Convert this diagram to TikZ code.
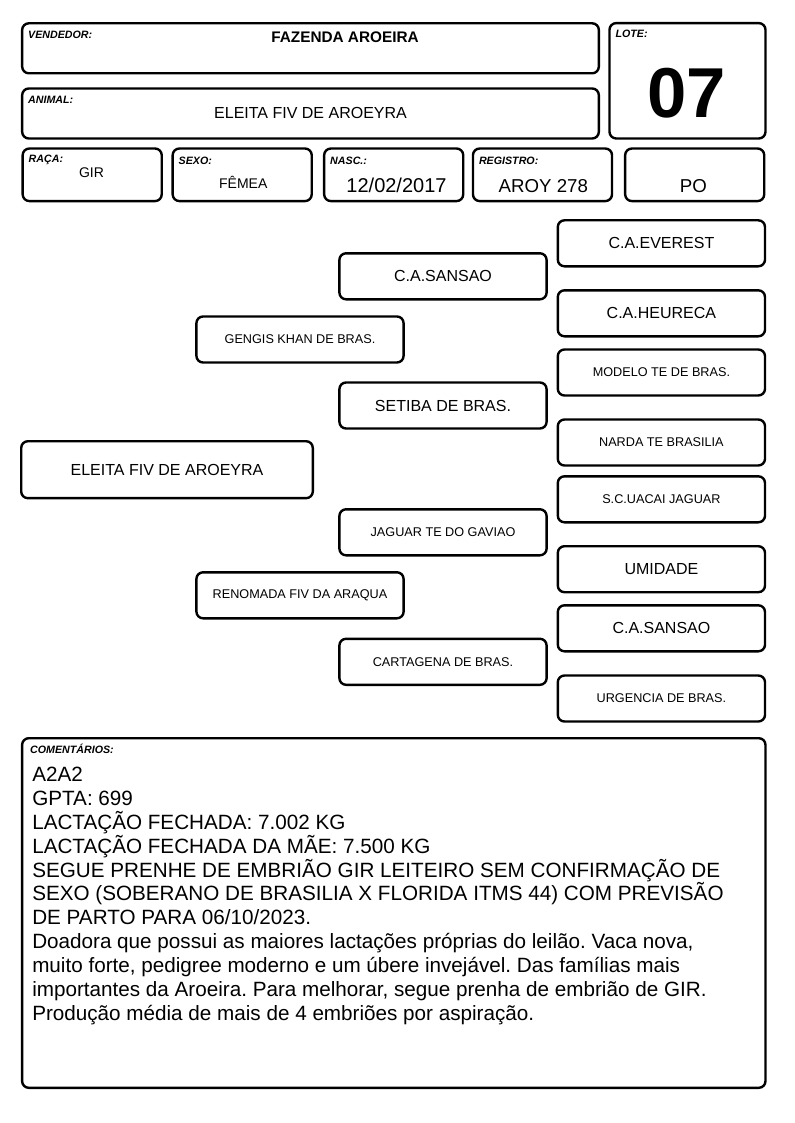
\documentclass[tikz,border=0pt]{standalone}
\usepackage{fontspec}
\setmainfont{Liberation Sans}
\usepackage{tikz}
\usetikzlibrary{calc}

\newcommand{\fsz}[1]{\fontsize{#1}{1.2\dimexpr#1pt\relax}\selectfont}
\frenchspacing

\begin{document}
\begin{tikzpicture}[
    x=0.75pt, y=-0.75pt,
    box/.style={draw, line width=1.8pt, rounded corners=5pt, inner sep=0pt, align=center},
    hbox/.style={box, minimum width=432.5pt, minimum height=37.5pt},
    rbox/.style={box, minimum width=104.3pt, minimum height=39.4pt},
    pbox/.style={box, minimum width=155.4pt, minimum height=34.5pt},
    big/.style={font=\fsz{12}},
    small/.style={font=\fsz{9.5}},
    lbl/.style={anchor=base west, inner sep=0pt, font=\fsz{8}\bfseries\itshape},
    val/.style={anchor=base, inner sep=0pt}
]
    \useasboundingbox (0,0) rectangle (794,1123);

    % Header
    \node [hbox] (vend) at (310.5,48.3) {};
    \node [hbox] (animal) at (310.5,113.5) {};
    \node [box, minimum width=117pt, minimum height=86.5pt] (lote) at (687.5,80.8) {};
    \node [lbl] (vendl) at ($(vend.north west)+(7,16)$) {VENDEDOR:};
    \node [lbl] (animall) at ($(animal.north west)+(7,16)$) {ANIMAL:};
    \node [lbl] (lotel) at ($(lote.north west)+(7,16)$) {LOTE:};
    \node [val, font=\fsz{11.5}\bfseries] (vendv) at (345,43) {FAZENDA AROEIRA};
    \node [val, font=\fsz{12}] (animalv) at (310.5,119) {ELEITA FIV DE AROEYRA};
    \node [val, font=\fsz{53}\bfseries] (lotev) at (686.5,118) {07};

    % Data row
    \node [rbox] (raca) at (92.2,174.8) {};
    \node [rbox] (sexo) at (242.2,174.8) {};
    \node [rbox] (nasc) at (393.7,174.8) {};
    \node [rbox] (reg) at (542.5,174.8) {};
    \node [rbox] (po) at (694.7,174.8) {};
    \node [lbl] (racal) at ($(raca.north west)+(7,15)$) {RAÇA:};
    \node [lbl] (sexol) at ($(sexo.north west)+(7,17)$) {SEXO:};
    \node [lbl] (nascl) at ($(nasc.north west)+(7,17)$) {NASC.:};
    \node [lbl] (regl) at ($(reg.north west)+(7,17)$) {REGISTRO:};
    \node [val, font=\fsz{10.5}] (racav) at (91.5,178) {GIR};
    \node [val, font=\fsz{10.5}] (sexov) at (243.3,188.7) {FÊMEA};
    \node [val, font=\fsz{15}] (nascv) at (396.5,193) {12/02/2017};
    \node [val, font=\fsz{14}] (regv) at (543.3,193) {AROY 278};
    \node [val, font=\fsz{14}] (pov) at (693.3,193) {PO};

    % Pedigree
    \node [box, big, minimum width=218.7pt, minimum height=42.7pt] (self) at (167,469.7) {ELEITA FIV DE AROEYRA};

    \node [pbox, small] (sire) at (300,339.5) {GENGIS KHAN DE BRAS.};
    \node [pbox, small] (dam) at (300,595.3) {RENOMADA FIV DA ARAQUA};

    \node [pbox, big] (ss) at (443,276.3) {C.A.SANSAO};
    \node [pbox, big] (sd) at (443,405.5) {SETIBA DE BRAS.};
    \node [pbox, small] (ds) at (443,532.3) {JAGUAR TE DO GAVIAO};
    \node [pbox, small] (dd) at (443,661.8) {CARTAGENA DE BRAS.};

    \node [pbox, big] (sss) at (661.4,243.3) {C.A.EVEREST};
    \node [pbox, big] (ssd) at (661.4,313.3) {C.A.HEURECA};
    \node [pbox, small] (sds) at (661.4,372.5) {MODELO TE DE BRAS.};
    \node [pbox, small] (sdd) at (661.4,442.5) {NARDA TE BRASILIA};
    \node [pbox, small] (dss) at (661.4,499.3) {S.C.UACAI JAGUAR};
    \node [pbox, big] (dsd) at (661.4,569.2) {UMIDADE};
    \node [pbox, big] (dds) at (661.4,628.3) {C.A.SANSAO};
    \node [pbox, small] (ddd) at (661.4,698.5) {URGENCIA DE BRAS.};

    % Comments
    \node [box, minimum width=557.5pt, minimum height=262.2pt] (com) at (393.8,913) {};
    \node [lbl] (coml) at ($(com.north west)+(9,16)$) {COMENTÁRIOS:};
    \node [anchor=north west, inner sep=0pt, align=left, font=\fontsize{15.5}{17.9}\selectfont] (comv) at (32,766.9) {%
        A2A2\\
        GPTA: 699\\
        LACTAÇÃO FECHADA: 7.002 KG\\
        LACTAÇÃO FECHADA DA MÃE: 7.500 KG\\
        SEGUE PRENHE DE EMBRIÃO GIR LEITEIRO SEM CONFIRMAÇÃO DE\\
        SEXO (SOBERANO DE BRASILIA X FLORIDA ITMS 44) COM PREVISÃO\\
        DE PARTO PARA 06/10/2023.\\
        Doadora que possui as maiores lactações próprias do leilão. Vaca nova,\\
        muito forte, pedigree moderno e um úbere invejável. Das famílias mais\\
        importantes da Aroeira. Para melhorar, segue prenha de embrião de GIR.\\
        Produção média de mais de 4 embriões por aspiração.};
\end{tikzpicture}
\end{document}
